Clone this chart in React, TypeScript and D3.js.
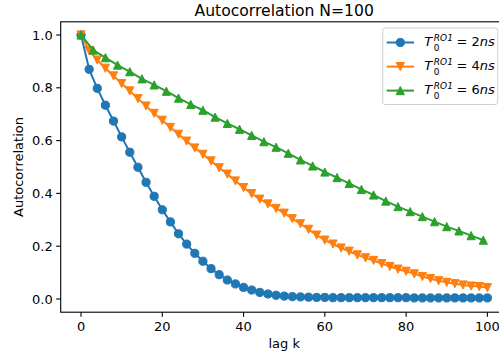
import React from "react";
import * as d3 from "d3";

// lags where each series has a marker
const lagsEven = [
  0, 2, 4, 6, 8, 10, 12, 14, 16, 18, 20, 22, 24, 26, 28, 30, 32, 34, 36, 38, 40,
  42, 44, 46, 48, 50, 52, 54, 56, 58, 60, 62, 64, 66, 68, 70, 72, 74, 76, 78, 80,
  82, 84, 86, 88, 90, 92, 94, 96, 98, 100,
];
const lagsThree = [
  0, 3, 6, 9, 12, 15, 18, 21, 24, 27, 30, 33, 36, 39, 42, 45, 48, 51, 54, 57, 60,
  63, 66, 69, 72, 75, 78, 81, 84, 87, 90, 93, 96, 99,
];

const acf2ns = [
  1.0, 0.87, 0.798, 0.734, 0.674, 0.614, 0.556, 0.499, 0.442, 0.389, 0.338,
  0.292, 0.247, 0.208, 0.173, 0.143, 0.115, 0.092, 0.072, 0.057, 0.044, 0.034,
  0.025, 0.019, 0.014, 0.011, 0.009, 0.008, 0.007, 0.006, 0.006, 0.005, 0.005,
  0.005, 0.005, 0.005, 0.005, 0.005, 0.005, 0.005, 0.005, 0.004, 0.004, 0.004,
  0.004, 0.004, 0.004, 0.004, 0.004, 0.004, 0.004,
];
const acf4ns = [
  1.0, 0.941, 0.905, 0.874, 0.845, 0.816, 0.788, 0.759, 0.731, 0.703, 0.677,
  0.65, 0.624, 0.598, 0.572, 0.548, 0.523, 0.497, 0.473, 0.447, 0.422, 0.399,
  0.378, 0.36, 0.343, 0.325, 0.304, 0.285, 0.264, 0.242, 0.223, 0.208, 0.193,
  0.181, 0.167, 0.156, 0.146, 0.134, 0.123, 0.113, 0.105, 0.095, 0.085, 0.077,
  0.069, 0.063, 0.058, 0.053, 0.049, 0.047, 0.043,
];
const acf6ns = [
  1.0, 0.943, 0.914, 0.886, 0.861, 0.834, 0.811, 0.787, 0.761, 0.737, 0.715,
  0.689, 0.665, 0.643, 0.62, 0.596, 0.575, 0.552, 0.527, 0.504, 0.481, 0.46,
  0.438, 0.415, 0.394, 0.371, 0.35, 0.331, 0.312, 0.293, 0.274, 0.258, 0.24,
  0.223,
];

const seriesNames = ["2ns", "4ns", "6ns"];
const xTicks = [0, 20, 40, 60, 80, 100];
const yTicks = [0.0, 0.2, 0.4, 0.6, 0.8, 1.0];

const colors = ["#1f77b4", "#ff7f0e", "#2ca02c"];
const FONT = "DejaVu Sans, sans-serif";

const W = 499;
const H = 354;
const plot = { left: 60.7, right: 507.7, top: 21.8, bottom: 312.2 };

function Marker({ kind, x, y, color }: { kind: string; x: number; y: number; color: string }) {
  const s = 4.1;
  if (kind === "circle") return <circle cx={x} cy={y} r={s} fill={color} stroke={color} strokeWidth={1} />;
  const pts =
    kind === "down"
      ? [[x, y + s], [x - s, y - s], [x + s, y - s]]
      : [[x, y - s], [x - s, y + s], [x + s, y + s]];
  return <polygon points={pts.map((p) => p.join(",")).join(" ")} fill={color} stroke={color} strokeWidth={1} strokeLinejoin="miter" />;
}

export default function App() {
  const x = d3.scaleLinear().domain([-5, 105]).range([plot.left, plot.right]);
  const y = d3.scaleLinear().domain([-0.05, 1.05]).range([plot.bottom, plot.top]);

  const series = [
    { lags: lagsEven, vals: acf2ns, marker: "circle" },
    { lags: lagsEven, vals: acf4ns, marker: "down" },
    { lags: lagsThree, vals: acf6ns, marker: "up" },
  ];

  const line = d3
    .line<[number, number]>()
    .x((d) => x(d[0]))
    .y((d) => y(d[1]));

  const legX = 382.7;
  const legRows = [42.5, 66.6, 90.6];

  return (
    <div style={{ position: "absolute", left: 0, top: 0 }}>
      <svg width={W} height={H} style={{ display: "block", background: "#fff" }} fontFamily={FONT}>
        <defs>
          <clipPath id="plotclip">
            <rect x={plot.left} y={plot.top} width={plot.right - plot.left} height={plot.bottom - plot.top} />
          </clipPath>
        </defs>

        <text x={(plot.left + plot.right) / 2} y={15.5} fontSize={15.6} textAnchor="middle" fill="#000">
          Autocorrelation N=100
        </text>

        <g clipPath="url(#plotclip)">
          {series.map((s, i) => {
            const pts = s.lags.map((l, j) => [l, s.vals[j]] as [number, number]);
            return (
              <g key={i}>
                <path d={line(pts) || ""} fill="none" stroke={colors[i]} strokeWidth={2} strokeLinejoin="round" strokeLinecap="square" />
                {pts.map((p, j) => (
                  <Marker key={j} kind={s.marker} x={x(p[0])} y={y(p[1])} color={colors[i]} />
                ))}
              </g>
            );
          })}
        </g>

        {/* spines */}
        <rect x={plot.left} y={plot.top} width={plot.right - plot.left} height={plot.bottom - plot.top} fill="none" stroke="#000" strokeWidth={1.1} />

        {/* x axis */}
        {xTicks.map((t) => (
          <g key={t} transform={`translate(${x(t)},${plot.bottom})`}>
            <line y1={0} y2={4.5} stroke="#000" strokeWidth={1.1} />
            <text y={18.8} fontSize={13} textAnchor="middle" fill="#000">
              {t}
            </text>
          </g>
        ))}
        <text x={(plot.left + plot.right) / 2} y={347.5} fontSize={13} textAnchor="middle" fill="#000">
          lag k
        </text>

        {/* y axis */}
        {yTicks.map((t) => (
          <g key={t} transform={`translate(${plot.left},${y(t)})`}>
            <line x1={0} x2={-4.5} stroke="#000" strokeWidth={1.1} />
            <text x={-8} dy="0.35em" fontSize={13} textAnchor="end" fill="#000">
              {d3.format(".1f")(t)}
            </text>
          </g>
        ))}
        <text
          transform={`translate(22.5,${(plot.top + plot.bottom) / 2}) rotate(-90)`}
          fontSize={13}
          textAnchor="middle"
          fill="#000"
        >
          Autocorrelation
        </text>

        {/* legend */}
        <rect x={legX} y={28} width={115} height={76.5} rx={2.5} fill="#fff" fillOpacity={0.8} stroke="#d0d0d0" strokeWidth={1} />
        {seriesNames.map((name, i) => {
          const cy = legRows[i];
          return (
            <g key={name}>
              <line x1={386.7} x2={414} y1={cy} y2={cy} stroke={colors[i]} strokeWidth={2} />
              <Marker kind={series[i].marker} x={400.3} y={cy} color={colors[i]} />
              <text x={424.3} y={cy + 3} fontSize={13} fill="#000">
                <tspan fontStyle="italic">T</tspan>
              </text>
              <text x={433.8} y={cy - 1.6} fontSize={9} fill="#000" fontStyle="italic">
                RO1
              </text>
              <text x={433.8} y={cy + 8.6} fontSize={9} fill="#000">
                0
              </text>
              <text x={456.5} y={cy + 3} fontSize={13} fill="#000">
                = {name.replace("ns", "")}
                <tspan fontStyle="italic">ns</tspan>
              </text>
            </g>
          );
        })}
      </svg>
    </div>
  );
}
